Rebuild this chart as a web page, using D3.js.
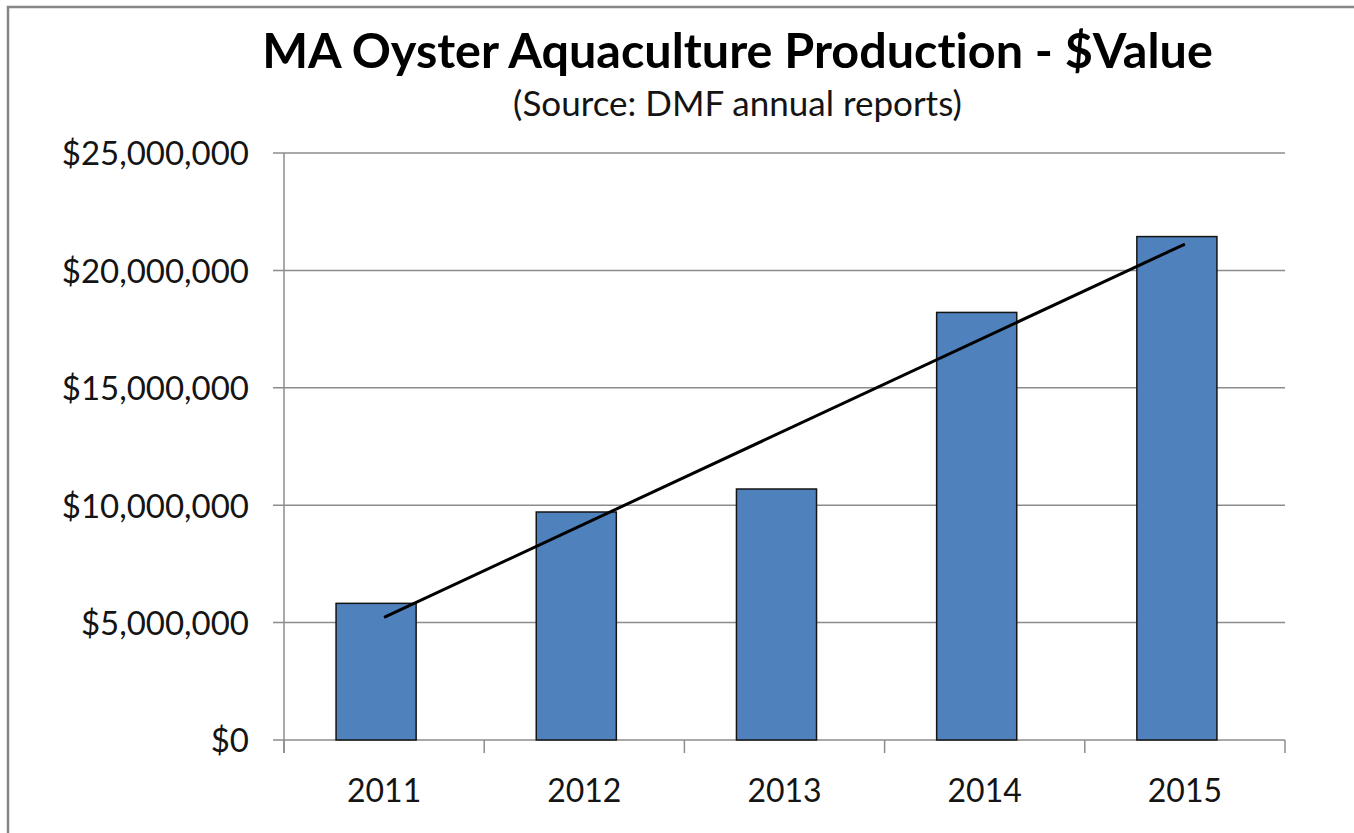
<!DOCTYPE html>
<html>
<head>
<meta charset="utf-8">
<script src="https://cdn.jsdelivr.net/npm/d3@7"></script>
<style>
  html, body { margin: 0; padding: 0; background: #fff; }
  svg { display: block; font-family: Lato, "Open Sans", sans-serif; font-variant-ligatures: none; }
</style>
</head>
<body>
<svg id="chart"></svg>
<script>
// data
const years = ['2011', '2012', '2013', '2014', '2015']
const values = [5820000, 9710000, 10690000, 18210000, 21440000]
const yTicks = [0, 5000000, 10000000, 15000000, 20000000, 25000000]
const title = 'MA Oyster Aquaculture Production - $Value'
const subtitle = '(Source: DMF annual reports)'

const W = 1354, H = 833
const margin = {top: 153, right: 69, bottom: 93, left: 284}
const width = W - margin.left - margin.right
const height = H - margin.top - margin.bottom

const svg = d3.select('#chart').attr('width', W).attr('height', H)

// outer frame (only top/left edges show in the crop)
svg.append('rect')
  .attr('x', 8).attr('y', 7)
  .attr('width', W + 20).attr('height', H + 20)
  .attr('fill', 'none')
  .attr('stroke', '#878787')
  .attr('stroke-width', 2.5)

const x = d3.scaleBand().domain(years).range([0, width])
const y = d3.scaleLinear().domain([0, 25000000]).range([height, 0])

const g = svg.append('g')
  .attr('transform', 'translate(' + margin.left + ',' + margin.top + ')')

// gridlines
g.append('g').selectAll('line')
  .data(yTicks)
  .join('line')
  .attr('x1', -11).attr('x2', width)
  .attr('y1', d => y(d)).attr('y2', d => y(d))
  .attr('stroke', '#8c8c8c')
  .attr('stroke-width', 1.5)

// y axis labels
const fmt = d3.format('$,.0f')
const yAxis = g.append('g')
  .call(d3.axisLeft(y).tickValues(yTicks).tickFormat(fmt).tickSize(11).tickPadding(24))
yAxis.select('.domain').remove()
yAxis.selectAll('line').remove()
yAxis.selectAll('text')
  .attr('font-size', 33)
  .attr('font-family', 'Lato, sans-serif')
  .attr('fill', '#141414')
  .attr('dy', '0.36em')

// bars (shifted slightly left of the category centre, like the original)
g.append('g').selectAll('rect')
  .data(values)
  .join('rect')
  .attr('x', (d, i) => x(years[i]) + x.bandwidth() * 0.26)
  .attr('width', x.bandwidth() * 0.4)
  .attr('y', d => y(d))
  .attr('height', d => height - y(d))
  .attr('fill', '#4f81bd')
  .attr('stroke', '#141414')
  .attr('stroke-width', 1.5)

// axis lines
g.append('line')
  .attr('x1', 0).attr('x2', 0)
  .attr('y1', 0).attr('y2', height + 13)
  .attr('stroke', '#8c8c8c').attr('stroke-width', 1.5)

// category ticks on band edges
const edges = years.map(d => x(d)).concat([width])
g.append('g').selectAll('line')
  .data(edges)
  .join('line')
  .attr('x1', d => d).attr('x2', d => d)
  .attr('y1', height).attr('y2', height + 13)
  .attr('stroke', '#8c8c8c').attr('stroke-width', 1.5)

// x labels
g.append('g').selectAll('text')
  .data(years)
  .join('text')
  .attr('x', d => x(d) + x.bandwidth() / 2)
  .attr('y', height + 62)
  .attr('text-anchor', 'middle')
  .attr('font-size', 32)
  .attr('fill', '#141414')
  .text(d => d)

// linear trendline
const idx = values.map((d, i) => i)
const mx = d3.mean(idx), my = d3.mean(values)
const slope = d3.sum(idx, i => (i - mx) * (values[i] - my)) / d3.sum(idx, i => (i - mx) * (i - mx))
const icpt = my - slope * mx
const trend = [0, values.length - 1].map(i => ({i, v: icpt + slope * i}))
const line = d3.line()
  .x(d => x(years[d.i]) + x.bandwidth() / 2)
  .y(d => y(d.v))
g.append('path')
  .datum(trend)
  .attr('d', line)
  .attr('fill', 'none')
  .attr('stroke', '#000')
  .attr('stroke-width', 3)

// titles, sized to the widths in the original
function fitText(sel, target) {
  const fs = +sel.attr('font-size')
  const w = sel.node().getComputedTextLength()
  sel.attr('font-size', fs * target / w)
}
const cx = 737.5
const t1 = svg.append('text')
  .attr('x', cx).attr('y', 68)
  .attr('text-anchor', 'middle')
  .attr('font-size', 46)
  .attr('font-weight', 'bold')
  .attr('fill', '#000')
  .text(title)
fitText(t1, 951)
const t2 = svg.append('text')
  .attr('x', cx).attr('y', 116)
  .attr('text-anchor', 'middle')
  .attr('font-size', 32)
  .attr('fill', '#141414')
  .text(subtitle)
fitText(t2, 449)
</script>
</body>
</html>
